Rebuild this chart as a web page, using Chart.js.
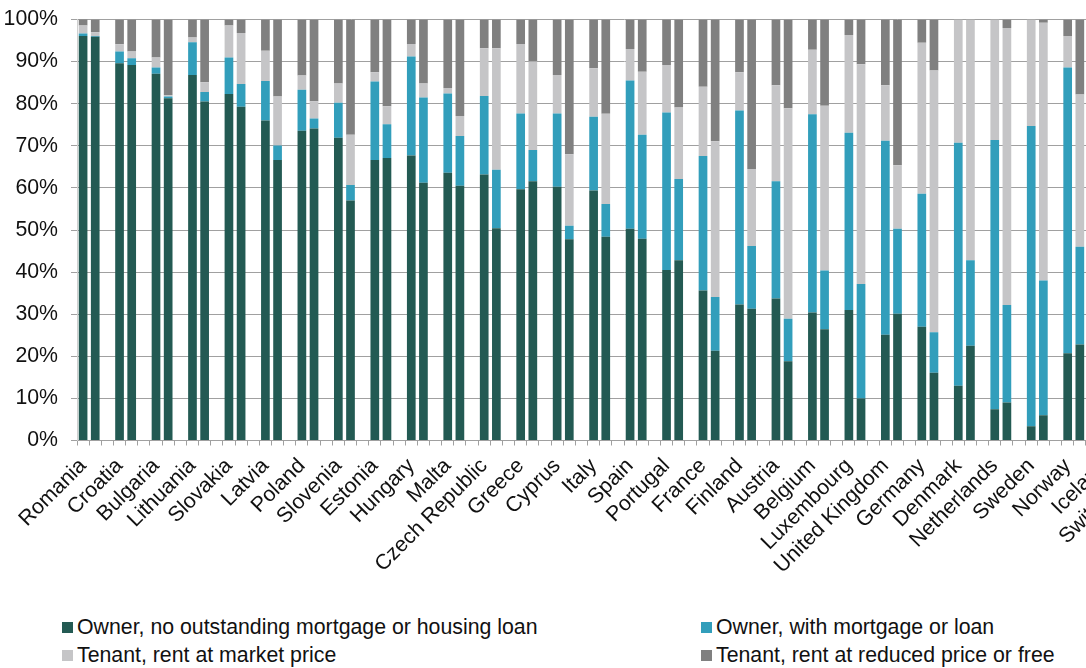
<!DOCTYPE html>
<html>
<head>
<meta charset="utf-8">
<script src="https://cdn.jsdelivr.net/npm/chart.js@4.4.0/dist/chart.umd.min.js"></script>
<style>
  html, body { margin: 0; padding: 0; width: 1086px; height: 668px; overflow: hidden; background: #fff; }
  #wrap { position: absolute; left: 0; top: 0; width: 1171px; height: 600px; }
  #legend { position: absolute; left: 0; top: 0; font: 21.3px 'Liberation Sans', Arial, sans-serif; color: #111; }
  .item { position: absolute; height: 24px; line-height: 24px; display: flex; align-items: center; white-space: nowrap; }
  .swatch { width: 11px; height: 11px; margin-right: 4px; }
</style>
</head>
<body>
<div id="wrap"><canvas id="chart"></canvas></div>
<div id="legend"></div>
<script>
// ── Data ──────────────────────────────────────────────────────────────────────
// two bars per country (A = left bar, B = right bar), shares in %
const countries = ['Romania', 'Croatia', 'Bulgaria', 'Lithuania', 'Slovakia', 'Latvia', 'Poland', 'Slovenia',
  'Estonia', 'Hungary', 'Malta', 'Czech Republic', 'Greece', 'Cyprus', 'Italy', 'Spain', 'Portugal', 'France',
  'Finland', 'Austria', 'Belgium', 'Luxembourg', 'United Kingdom', 'Germany', 'Denmark', 'Netherlands',
  'Sweden', 'Norway', 'Iceland', 'Switzerland'];

const outrightA = [96.1, 89.6, 87.1, 86.8, 82.3, 76.0, 73.6, 71.9, 66.6, 67.7, 63.6, 63.2, 59.7, 60.3, 59.4, 50.3, 40.5, 35.6, 32.3, 33.7, 30.4, 31.0, 25.1, 27.0, 13.0, 7.4, 3.4, 20.7, null, null];
const outrightB = [95.9, 89.2, 81.3, 80.5, 79.3, 66.6, 74.1, 57.0, 67.1, 61.2, 60.5, 50.4, 61.6, 47.8, 48.4, 47.9, 42.8, 21.3, 31.3, 18.8, 26.4, 10.0, 30.1, 16.1, 22.5, 9.0, 6.0, 22.8, null, null];
const mortgageA = [0.6, 2.8, 1.5, 7.8, 8.7, 9.4, 9.7, 8.3, 18.7, 23.5, 18.8, 18.6, 18.0, 17.4, 17.5, 35.2, 37.4, 32.0, 46.1, 27.9, 47.1, 42.1, 46.1, 31.6, 57.7, 64.0, 71.3, 67.9, null, null];
const mortgageB = [0.2, 1.6, 0.4, 2.3, 5.4, 3.5, 2.4, 3.7, 8.0, 20.3, 11.8, 13.9, 7.4, 3.2, 7.8, 24.7, 19.3, 12.8, 14.9, 10.1, 14.0, 27.2, 20.2, 9.6, 20.3, 23.2, 32.0, 23.2, null, null];
const marketA = [1.9, 1.7, 2.4, 1.1, 7.6, 7.2, 3.4, 4.6, 2.2, 3.0, 1.3, 11.4, 16.5, 9.1, 11.5, 7.5, 11.3, 16.4, 9.1, 22.8, 15.3, 23.2, 13.2, 35.9, 29.3, 28.6, 25.3, 7.5, null, null];
const marketB = [0.9, 1.6, 0.3, 2.3, 12.1, 11.6, 4.1, 11.9, 4.3, 3.3, 4.8, 28.9, 21.0, 17.0, 21.4, 15.0, 17.0, 37.0, 18.3, 50.0, 39.1, 52.2, 15.1, 62.2, 57.2, 65.8, 61.2, 36.2, null, null];
const reducedA = [2.0, 5.9, 9.0, 4.3, 1.4, 7.4, 13.3, 15.2, 12.5, 5.8, 16.3, 6.8, 5.8, 13.2, 11.6, 7.0, 10.8, 16.0, 12.5, 15.6, 7.2, 3.7, 15.6, 5.5, 0, 0, 0, 3.9, null, null];
const reducedB = [3.0, 7.6, 18.0, 14.9, 3.2, 18.3, 19.4, 27.4, 20.6, 15.2, 22.9, 6.8, 10.0, 32.0, 22.4, 12.4, 20.9, 28.9, 35.5, 21.1, 20.5, 10.6, 34.6, 12.1, 0, 2.0, 0.8, 17.8, null, null];

const yTicks = [0, 10, 20, 30, 40, 50, 60, 70, 80, 90, 100];

const SERIES = [
  { label: 'Owner, no outstanding mortgage or housing loan', a: outrightA, b: outrightB, color: '#235a53' },
  { label: 'Owner, with mortgage or loan', a: mortgageA, b: mortgageB, color: '#329ebb' },
  { label: 'Tenant, rent at market price', a: marketA, b: marketB, color: '#c5c5c7' },
  { label: 'Tenant, rent at reduced price or free', a: reducedA, b: reducedB, color: '#808080' }
];

const GRID = '#a0a0a0';
const FONT = { family: "'Liberation Sans', Arial, sans-serif", size: 21.3 };

// each country takes three slots: bar A, bar B, empty gap
function toSlots(a, b) {
  const out = [];
  a.forEach((v, i) => out.push(v, b[i], null));
  return out;
}
const slotLabels = countries.flatMap(c => [c, '', '']);

// ── Chart ─────────────────────────────────────────────────────────────────────
new Chart(document.getElementById('chart'), {
  type: 'bar',
  data: {
    labels: slotLabels,
    datasets: SERIES.map(s => ({
      label: s.label,
      data: toSlots(s.a, s.b),
      backgroundColor: s.color,
      borderWidth: 0,
      categoryPercentage: 1,
      barPercentage: 0.715
    }))
  },
  options: {
    responsive: true,
    maintainAspectRatio: false,
    animation: false,
    layout: { padding: { top: 19.5, bottom: 9.5, left: 0, right: 0 } },
    plugins: { legend: { display: false }, tooltip: { enabled: false } },
    scales: {
      x: {
        stacked: true,
        grid: { drawOnChartArea: false, drawTicks: true, tickLength: 5, color: GRID, offset: true },
        border: { color: GRID },
        ticks: { autoSkip: false, maxRotation: 45, minRotation: 45, padding: 8, color: '#111', font: FONT },
        // fixed axis box so the plot keeps the original's size
        afterFit: s => { s.height = 150; s.paddingLeft = 0; s.paddingRight = 0; }
      },
      y: {
        stacked: true,
        min: 0,
        max: 100,
        afterBuildTicks: s => { s.ticks = yTicks.map(v => ({ value: v })); },
        grid: { color: GRID, tickLength: 6 },
        border: { display: true, color: '#d0d0d0' },
        ticks: { padding: 13, color: '#111', font: FONT, callback: v => v + '%' },
        afterFit: s => { s.width = 77; s.paddingTop = 0; s.paddingBottom = 0; }
      }
    }
  }
});

// ── Legend (two columns, as in the original) ──────────────────────────────────
const legend = document.getElementById('legend');
const LEG_X = [62, 701];
const LEG_Y = [615, 643];
SERIES.forEach((s, i) => {
  const el = document.createElement('div');
  el.className = 'item';
  el.style.left = LEG_X[i % 2] + 'px';
  el.style.top = LEG_Y[Math.floor(i / 2)] + 'px';
  el.innerHTML = `<span class="swatch" style="background:${s.color}"></span>${s.label}`;
  legend.appendChild(el);
});
</script>
</body>
</html>
